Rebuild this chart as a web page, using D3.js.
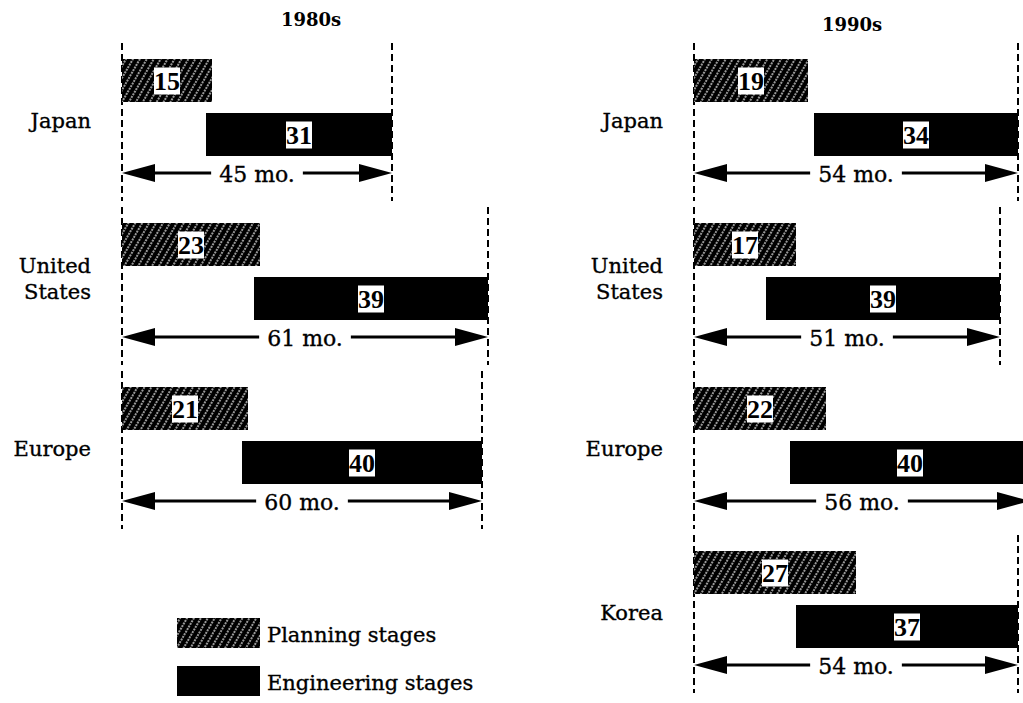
<!DOCTYPE html>
<html>
<head>
<meta charset="utf-8">
<script src="https://cdn.jsdelivr.net/npm/d3@7"></script>
<style>
  html, body { margin: 0; padding: 0; background: #fff; }
  svg { display: block; }
  text { font-family: "DejaVu Serif", "Liberation Serif", serif; fill: #000; }
  text.heavy { stroke: #000; stroke-width: 0.35px; }
</style>
</head>
<body>
<svg id="chart" width="1023" height="703"></svg>
<script>
// ---- data ----
const decades = ["1980s", "1990s"];
const regions80 = ["Japan", "United States", "Europe"];
const planning80 = [15, 23, 21];
const engineering80 = [31, 39, 40];
const total80 = [45, 61, 60];
const regions90 = ["Japan", "United States", "Europe", "Korea"];
const planning90 = [19, 17, 22, 27];
const engineering90 = [34, 39, 40, 37];
const total90 = [54, 51, 56, 54];
const legendLabels = ["Planning stages", "Engineering stages"];
const unitLabel = "mo.";

// ---- layout ----
const svg = d3.select("#chart");
const defs = svg.append("defs");
const pat = defs.append("pattern")
  .attr("id", "hatch").attr("patternUnits", "userSpaceOnUse")
  .attr("width", 6).attr("height", 6)
  .attr("patternTransform", "rotate(30)");
pat.append("rect").attr("width", 6).attr("height", 6).attr("fill", "#000");
pat.append("line").attr("x1", 3).attr("y1", 0).attr("x2", 3).attr("y2", 6)
  .attr("stroke", "#fff").attr("stroke-width", 1.2).attr("stroke-dasharray", "2,1");

const x = d3.scaleLinear().domain([0, 60]).range([0, 360]);
const y = d3.scalePoint().domain(["Japan", "United States", "Europe", "Korea"]).range([59, 551]);
const barH = 43, engOff = 54, arrowOff = 114;

const panels = [
  {decade: decades[0], regions: regions80, plan: planning80, eng: engineering80, total: total80,
   origin: 122, titleX: 311, titleY: 26},
  {decade: decades[1], regions: regions90, plan: planning90, eng: engineering90, total: total90,
   origin: 694, titleX: 852, titleY: 31}
];

function valueLabel(g, cx, cy, txt) {
  const t = g.append("text").attr("x", cx).attr("y", cy + 9)
    .attr("text-anchor", "middle").attr("font-size", 26).attr("font-weight", "bold")
    .style("font-family", "'Liberation Serif', serif").text(txt);
  const bb = t.node().getBBox();
  g.insert("rect", () => t.node())
    .attr("x", bb.x).attr("y", cy - 13).attr("width", bb.width).attr("height", 27)
    .attr("fill", "#fff");
}

panels.forEach(p => {
  svg.append("text").attr("x", p.titleX).attr("y", p.titleY)
    .attr("text-anchor", "middle").attr("font-size", 18).attr("font-weight", "bold")
    .text(p.decade);
  const g = svg.append("g").attr("transform", `translate(${p.origin},0)`);
  p.regions.forEach((r, i) => {
    const top = y(r);
    const tot = p.total[i];
    // dashed guides
    [0, tot].forEach(v => {
      g.append("line").attr("x1", x(v)).attr("x2", x(v))
        .attr("y1", top - 16).attr("y2", top + 142)
        .attr("stroke", "#000").attr("stroke-width", 2).attr("stroke-dasharray", "7,4");
    });
    // planning bar
    g.append("rect").attr("x", x(0)).attr("y", top)
      .attr("width", x(p.plan[i]) - x(0)).attr("height", barH).attr("fill", "url(#hatch)");
    valueLabel(g, (x(0) + x(p.plan[i])) / 2, top + barH / 2, p.plan[i]);
    // engineering bar
    const e0 = tot - p.eng[i];
    g.append("rect").attr("x", x(e0)).attr("y", top + engOff)
      .attr("width", x(tot) - x(e0)).attr("height", barH).attr("fill", "#000");
    valueLabel(g, (x(e0) + x(tot)) / 2, top + engOff + barH / 2, p.eng[i]);
    // arrow
    const ay = top + arrowOff;
    const x0 = x(0), x1 = x(tot);
    g.append("line").attr("x1", x0 + 20).attr("x2", x1 - 20).attr("y1", ay).attr("y2", ay)
      .attr("stroke", "#000").attr("stroke-width", 3);
    g.append("path").attr("d", `M${x0},${ay} L${x0 + 33},${ay - 9} L${x0 + 33},${ay + 9} Z`).attr("fill", "#000");
    g.append("path").attr("d", `M${x1},${ay} L${x1 - 33},${ay - 9} L${x1 - 33},${ay + 9} Z`).attr("fill", "#000");
    const t = g.append("text").attr("class", "heavy").attr("x", (x0 + x1) / 2).attr("y", ay + 9)
      .attr("text-anchor", "middle").attr("font-size", 22).text(`${tot} ${unitLabel}`);
    const bb = t.node().getBBox();
    g.insert("rect", () => t.node()).attr("x", bb.x - 8).attr("y", ay - 4)
      .attr("width", bb.width + 16).attr("height", 8).attr("fill", "#fff");
    // region label
    const words = r.split(" ");
    const lbl = g.append("text").attr("class", "heavy").attr("x", x(0) - 31)
      .attr("text-anchor", "end").attr("font-size", 21);
    if (words.length === 1) {
      lbl.attr("y", top + 69).text(r);
    } else {
      words.forEach((w, k) => lbl.append("tspan").attr("x", x(0) - 31)
        .attr("y", top + 50 + k * 26).text(w));
    }
  });
});

// legend
const lg = svg.append("g");
const legendFills = ["url(#hatch)", "#000"];
const ly = d3.scalePoint().domain(legendLabels).range([618, 666]);
legendLabels.forEach((lab, i) => {
  lg.append("rect").attr("x", 177).attr("y", ly(lab)).attr("width", 83).attr("height", 30)
    .attr("fill", legendFills[i]);
  lg.append("text").attr("class", "heavy").attr("x", 267).attr("y", ly(lab) + 24)
    .attr("font-size", 21).text(lab);
});
</script>
</body>
</html>
